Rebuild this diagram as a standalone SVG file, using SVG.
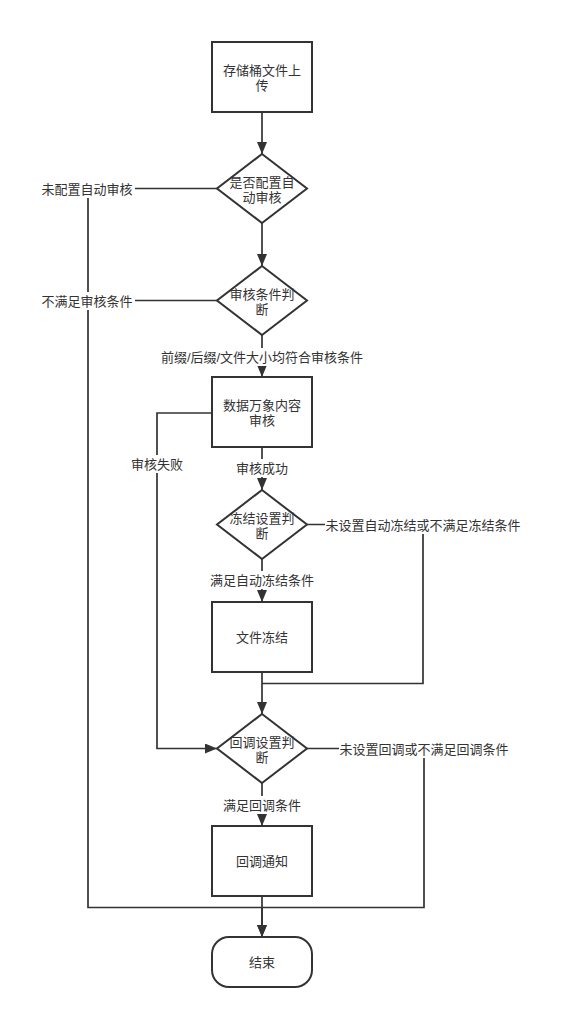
<svg xmlns="http://www.w3.org/2000/svg" width="575" height="1020" viewBox="0 0 575 1020">
<defs>
<marker id="arr" markerUnits="userSpaceOnUse" markerWidth="12" markerHeight="10" refX="12" refY="5" orient="auto">
<path d="M0,0 L12,5 L0,10 z" fill="#333333"/>
</marker>
<style>
.shape{fill:#ffffff;stroke:#333333;stroke-width:2}
.edge{fill:none;stroke:#333333;stroke-width:1.7}
.t{font-family:"Liberation Sans","Noto Sans CJK SC",sans-serif;font-size:13px;fill:#333333;text-anchor:middle;dominant-baseline:central}
.bg{fill:#ffffff}
</style>
</defs>
<rect width="575" height="1020" fill="#ffffff"/>
<g id="connectors">
<path class="edge" d="M262,112 V154" marker-end="url(#arr)"/>
<path class="edge" d="M262,223 V266" marker-end="url(#arr)"/>
<path class="edge" d="M262,335 V377" marker-end="url(#arr)"/>
<path class="edge" d="M262,447 V490" marker-end="url(#arr)"/>
<path class="edge" d="M262,559 V602" marker-end="url(#arr)"/>
<path class="edge" d="M262,672 V714" marker-end="url(#arr)"/>
<path class="edge" d="M262,783 V826" marker-end="url(#arr)"/>
<path class="edge" d="M262,896 V937" marker-end="url(#arr)"/>
<path class="edge" d="M217,188.5 H88 V907.5 H262 V937" marker-end="url(#arr)"/>
<path class="edge" d="M217,300.5 H88"/>
<path class="edge" d="M212,413 H157 V748.5 H217" marker-end="url(#arr)"/>
<path class="edge" d="M307,524.5 H423 V683.5 H262"/>
<path class="edge" d="M307,748.5 H424 V907.5 H262"/>
<rect class="bg" x="40" y="180" width="95" height="18"/>
<text class="t" x="87" y="189">未配置自动审核</text>
<rect class="bg" x="40" y="292" width="95" height="18"/>
<text class="t" x="87" y="301">不满足审核条件</text>
<rect class="bg" x="158" y="348" width="208" height="18"/>
<text class="t" x="262" y="357">前缀/后缀/文件大小均符合审核条件</text>
<rect class="bg" x="130" y="455" width="54" height="18"/>
<text class="t" x="157" y="464">审核失败</text>
<rect class="bg" x="235" y="459" width="54" height="18"/>
<text class="t" x="262" y="468">审核成功</text>
<rect class="bg" x="325" y="516" width="196" height="18"/>
<text class="t" x="423" y="525">未设置自动冻结或不满足冻结条件</text>
<rect class="bg" x="209" y="571" width="106" height="18"/>
<text class="t" x="262" y="580">满足自动冻结条件</text>
<rect class="bg" x="339" y="740" width="170" height="18"/>
<text class="t" x="424" y="749">未设置回调或不满足回调条件</text>
<rect class="bg" x="222" y="796" width="80" height="18"/>
<text class="t" x="262" y="805">满足回调条件</text>
</g>
<g id="upload">
<rect class="shape" x="212" y="42" width="100" height="70"/>
<text class="t" x="262" y="70">存储桶文件上<tspan x="262" dy="15">传</tspan></text>
</g>
<g id="autoReview">
<path class="shape" d="M262,154 L307,188.5 L262,223 L217,188.5 Z"/>
<text class="t" x="262" y="182">是否配置自<tspan x="262" dy="15">动审核</tspan></text>
</g>
<g id="reviewCond">
<path class="shape" d="M262,266 L307,300.5 L262,335 L217,300.5 Z"/>
<text class="t" x="262" y="294">审核条件判<tspan x="262" dy="15">断</tspan></text>
</g>
<g id="ciReview">
<rect class="shape" x="212" y="377" width="100" height="70"/>
<text class="t" x="262" y="405">数据万象内容<tspan x="262" dy="15">审核</tspan></text>
</g>
<g id="freezeCond">
<path class="shape" d="M262,490 L307,524.5 L262,559 L217,524.5 Z"/>
<text class="t" x="262" y="518">冻结设置判<tspan x="262" dy="15">断</tspan></text>
</g>
<g id="freeze">
<rect class="shape" x="212" y="602" width="100" height="70"/>
<text class="t" x="262" y="637">文件冻结</text>
</g>
<g id="callbackCond">
<path class="shape" d="M262,714 L307,748.5 L262,783 L217,748.5 Z"/>
<text class="t" x="262" y="742">回调设置判<tspan x="262" dy="15">断</tspan></text>
</g>
<g id="callback">
<rect class="shape" x="212" y="826" width="100" height="70"/>
<text class="t" x="262" y="861">回调通知</text>
</g>
<g id="end">
<rect class="shape" x="212" y="937" width="100" height="50" rx="17" ry="17"/>
<text class="t" x="262" y="962">结束</text>
</g>
</svg>
